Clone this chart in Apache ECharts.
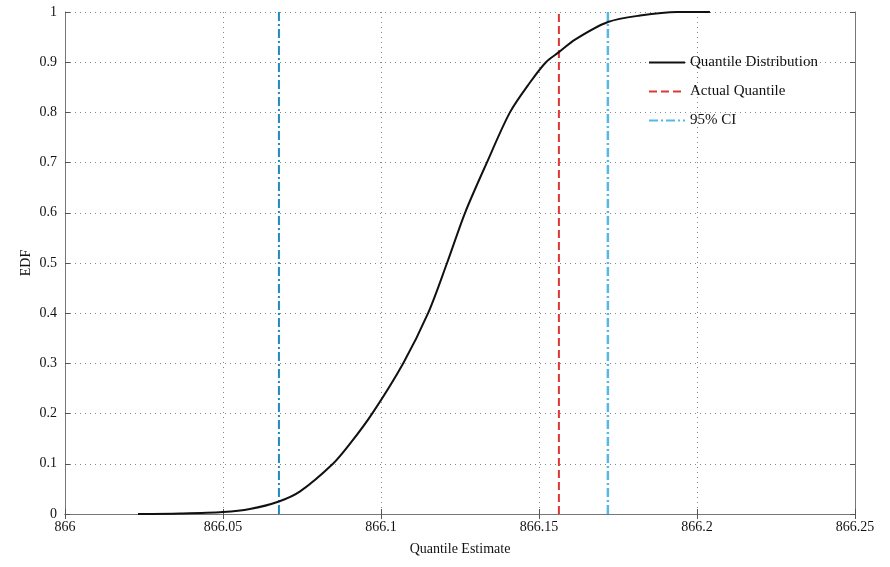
<!DOCTYPE html>
<html lang="en">
<head>
    <meta charset="UTF-8">
    <title>Quantile EDF</title>
    <script src="https://cdn.jsdelivr.net/npm/echarts@6/dist/echarts.min.js"></script>
    <style>
        html, body { margin: 0; padding: 0; background: #fff; }
        #main { width: 890px; height: 567px; }
    </style>
</head>
<body>
    <div id="main"></div>
<script>
    // curve
    var quantileX = [866.0231, 866.0364, 866.05, 866.0585, 866.0677, 866.0744, 866.0848, 866.0902, 866.0972,
        866.107, 866.1149, 866.1209, 866.1266, 866.1335, 866.1408, 866.1472, 866.1522, 866.1563,
        866.1614, 866.1718, 866.182, 866.1937, 866.2041];
    var edfY = [0, 0.001, 0.004, 0.01, 0.025, 0.045, 0.1, 0.14, 0.2,
        0.3, 0.4, 0.5, 0.6, 0.7, 0.8, 0.86, 0.9, 0.92,
        0.945, 0.98, 0.993, 1.0, 1.0];
    var actualQuantile = 866.1563;
    var ciBounds = [866.0677, 866.1718];
    var seriesNames = ['Quantile Distribution', 'Actual Quantile', '95% CI'];

    var fontFam = '"Liberation Serif", "DejaVu Serif", serif';
    var myChart = echarts.init(document.getElementById('main'));

    var curve = [];
    for (var i = 0; i < quantileX.length; i++) {
        curve.push([quantileX[i], edfY[i]]);
    }

    // 生成竖线
    function vline(x) {
        return [[x, 0], [x, 1]];
    }

    var fmt = function (v) {
        return String(+v.toFixed(2));
    };

    var boxAxis = {
        axisLine: { show: true, lineStyle: { color: '#777', width: 1 } },
        axisTick: { show: true, inside: true, length: 5, lineStyle: { color: '#555' } },
        axisLabel: { show: false },
        splitLine: { show: false }
    };

    var option = {
        animation: false,
        grid: { left: 65, right: 35, top: 12, bottom: 53, containLabel: false },
        legend: {
            orient: 'vertical',
            left: 643,
            top: 50,
            itemWidth: 36,
            itemHeight: 10,
            itemGap: 14,
            itemStyle: { opacity: 0 },
            textStyle: { fontFamily: fontFam, fontSize: 15, color: '#111' },
            data: seriesNames
        },
        xAxis: [{
            type: 'value',
            min: 866,
            max: 866.25,
            interval: 0.05,
            name: 'Quantile Estimate',
            nameLocation: 'middle',
            nameGap: 28,
            nameTextStyle: { fontFamily: fontFam, fontSize: 14, color: '#111' },
            axisLine: { show: true, lineStyle: { color: '#777' } },
            axisTick: { show: true, inside: true, length: 5, lineStyle: { color: '#555' } },
            axisLabel: { fontFamily: fontFam, fontSize: 14, color: '#111', margin: 6, formatter: fmt },
            splitLine: { show: true, lineStyle: { type: [1, 4], color: '#888' } }
        }, Object.assign({
            type: 'value', position: 'top', min: 866, max: 866.25, interval: 0.05
        }, boxAxis)],
        yAxis: [{
            type: 'value',
            min: 0,
            max: 1,
            interval: 0.1,
            name: 'EDF',
            nameLocation: 'middle',
            nameGap: 32,
            nameMoveOverlap: false,
            nameTextStyle: { fontFamily: fontFam, fontSize: 14, color: '#111' },
            axisLine: { show: true, lineStyle: { color: '#777' } },
            axisTick: { show: true, inside: true, length: 5, lineStyle: { color: '#555' } },
            axisLabel: { fontFamily: fontFam, fontSize: 14, color: '#111', margin: 8, formatter: fmt },
            splitLine: { show: true, lineStyle: { type: [1, 4], color: '#888' } }
        }, Object.assign({
            type: 'value', position: 'right', min: 0, max: 1, interval: 0.1
        }, boxAxis)],
        series: [
            {
                name: seriesNames[0],
                type: 'line',
                smooth: 0.3,
                symbol: 'none',
                data: curve,
                lineStyle: { color: '#111', width: 2 },
                itemStyle: { color: '#111' },
                z: 5
            },
            {
                name: seriesNames[1],
                type: 'line',
                symbol: 'none',
                data: vline(actualQuantile),
                lineStyle: { color: '#d93a35', width: 2, type: [8, 4] },
                itemStyle: { color: '#e86a66' }
            },
            {
                name: seriesNames[2],
                type: 'line',
                symbol: 'none',
                data: vline(ciBounds[1]),
                lineStyle: { color: '#55b8e6', width: 2.5, type: [9, 3, 2, 3] },
                itemStyle: { color: '#5ab8e2' }
            },
            {
                name: seriesNames[2],
                type: 'line',
                symbol: 'none',
                data: vline(ciBounds[0]),
                lineStyle: { color: '#2189c0', width: 2, type: [9, 3, 2, 3] },
                itemStyle: { color: '#5ab8e2' }
            }
        ]
    };
    myChart.setOption(option);
</script>
</body>
</html>
